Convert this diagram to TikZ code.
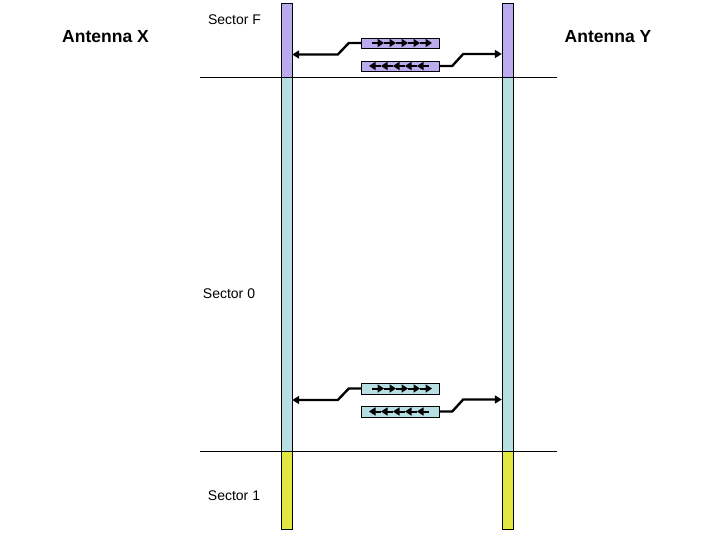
\documentclass[tikz,border=0pt]{standalone}
\usepackage{fontspec}
\setmainfont{Liberation Sans}
\usetikzlibrary{arrows.meta}

\definecolor{secF}{RGB}{186,170,238}
\definecolor{sec0}{RGB}{183,222,226}
\definecolor{sec1}{RGB}{226,232,64}

\tikzset{
  bar/.style={draw, minimum width=11pt, inner sep=0pt, anchor=north},
  pkt/.style={draw, minimum width=78pt, minimum height=10.5pt, inner sep=0pt},
  link/.style={line width=2.4pt, -{Triangle[length=7pt,width=8pt]}},
  flow/.style={line width=2pt, -{Triangle[length=6.5pt,width=8pt]}},
  title/.style={font=\bfseries\fontsize{17.5}{20}\selectfont},
  sector/.style={font=\fontsize{14}{16}\selectfont},
}

\begin{document}
\begin{tikzpicture}[x=1pt, y=-1pt]
\useasboundingbox (0,0) rectangle (720,540);

% antenna bars
\node[bar, fill=secF, minimum height=74pt] (xF) at (286.5,3) {};
\node[bar, fill=sec0, minimum height=374pt] (x0) at (286.5,77) {};
\node[bar, fill=sec1, minimum height=78pt] (x1) at (286.5,451) {};
\node[bar, fill=secF, minimum height=74pt] (yF) at (507.5,3) {};
\node[bar, fill=sec0, minimum height=374pt] (y0) at (507.5,77) {};
\node[bar, fill=sec1, minimum height=78pt] (y1) at (507.5,451) {};

% sector borders
\draw (200,77) -- (557,77);
\draw (200,451) -- (557,451);

% labels
\node[title] (antX) at (105.5,37) {Antenna X};
\node[title] (antY) at (608,37) {Antenna Y};
\node[sector] (labF) at (234.5,20) {Sector F};
\node[sector] (lab0) at (229,294) {Sector 0};
\node[sector] (lab1) at (234,496) {Sector 1};

% packets and links
\foreach \n/\ya/\yb/\c in {F/43/66/secF, 0/388.5/411.5/sec0} {
  \node[pkt, fill=\c] (fwd\n) at (400,\ya) {};
  \node[pkt, fill=\c] (rev\n) at (400,\yb) {};
  \foreach \x in {384,396,408,420,432}
    \draw[flow] (\x-12,\ya) -- (\x,\ya);
  \foreach \x in {417,405,393,381,369}
    \draw[flow] (\x+12,\yb) -- (\x,\yb);
  \draw[link] (fwd\n.west) -- ++(-12,0) -- ++(-11,11.5) coordinate (kx\n) -- (kx\n -| x\n.east);
  \draw[link] (rev\n.east) -- ++(13,0) -- ++(11,-12) coordinate (ky\n) -- (ky\n -| y\n.west);
}
\end{tikzpicture}
\end{document}
